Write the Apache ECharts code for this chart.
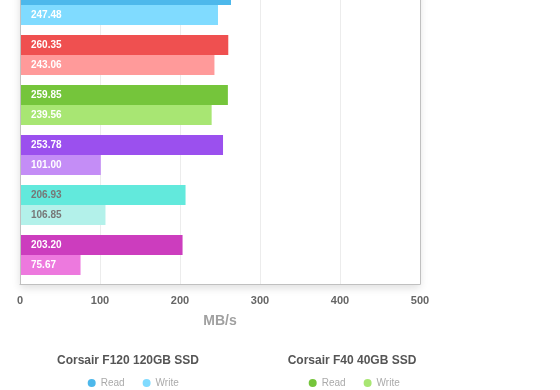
<!DOCTYPE html>
<html><head><meta charset="utf-8">
<script src="https://cdn.jsdelivr.net/npm/echarts@6/dist/echarts.min.js"></script>
<style>html,body{margin:0;padding:0;background:#fff}#c{width:560px;height:390px}</style>
</head><body><div id="c"></div>
<script>
// ---- data ----
const categories = ['Corsair F120 120GB SSD', 'Drive 2', 'Corsair F40 40GB SSD', 'Drive 4', 'Drive 5', 'Drive 6'];
const readValues = [263.75, 260.35, 259.85, 253.78, 206.93, 203.20];
const writeValues = [247.48, 243.06, 239.56, 101.00, 106.85, 75.67];
const xTicks = [0, 100, 200, 300, 400, 500];
const axisName = 'MB/s';
const legendGroups = ['Corsair F120 120GB SSD', 'Corsair F40 40GB SSD'];
const seriesNames = ['Read', 'Write'];

// ---- styles ----
const readColors = ['#4db8eb', '#ef5050', '#75c53b', '#9b50ee', '#62e9dc', '#cc3dbe'];
const writeColors = ['#80dbff', '#ff9a9a', '#a8e673', '#c48df6', '#b3f1ea', '#ed79de'];
const labelColors = ['#ffffff', '#ffffff', '#ffffff', '#ffffff', '#777777', '#ffffff'];
const FONT = '"Liberation Sans", Helvetica, Arial, sans-serif';
const legendLefts = [82.7, 303.7];
const legendCenters = [128, 352];

const chart = echarts.init(document.getElementById('c'), null, {renderer: 'canvas'});

function mkData(vals, colors) {
  return vals.map((v, i) => ({value: v, itemStyle: {color: colors[i]}, label: {color: labelColors[i]}}));
}

const option = {
  animation: false,
  grid: [
    {left: 20, right: 140, top: -20, bottom: 106, show: true, backgroundColor: '#fff', borderWidth: 0,
     outerBoundsMode: 'none', containLabel: false,
     shadowColor: 'rgba(0,0,0,0.13)', shadowBlur: 8, shadowOffsetY: 4},
    {left: 20, right: 140, top: -20, height: 300, outerBoundsMode: 'none', containLabel: false}
  ],
  xAxis: [
    {gridIndex: 0, type: 'value', min: xTicks[0], max: xTicks[xTicks.length - 1], interval: xTicks[1] - xTicks[0],
     axisLine: {show: true, lineStyle: {color: '#c0c0c0'}}, axisTick: {show: false},
     splitLine: {show: true, lineStyle: {color: '#ececec'}},
     axisLabel: {color: '#666', fontSize: 11, fontWeight: 'bold', fontFamily: FONT, margin: 11},
     name: axisName, nameLocation: 'middle', nameGap: 30,
     nameTextStyle: {color: '#a0a0a0', fontSize: 14, fontWeight: 'bold', fontFamily: FONT}},
    {gridIndex: 1, type: 'value', min: xTicks[0], max: xTicks[xTicks.length - 1], show: false}
  ],
  yAxis: [
    {gridIndex: 0, type: 'value', min: 0, max: 1, position: 'left', z: 5,
     axisLine: {show: true, lineStyle: {color: '#c0c0c0'}}, axisTick: {show: false},
     axisLabel: {show: false}, splitLine: {show: false}},
    {gridIndex: 0, type: 'value', min: 0, max: 1, position: 'right', z: 5,
     axisLine: {show: true, lineStyle: {color: '#c0c0c0'}}, axisTick: {show: false},
     axisLabel: {show: false}, splitLine: {show: false}},
    {gridIndex: 1, type: 'category', data: categories, inverse: true, show: false}
  ],
  legend: legendGroups.map((g, k) => {
    const ci = categories.indexOf(g);
    return {
      left: legendLefts[k], top: 373, orient: 'horizontal', icon: 'circle',
      itemWidth: 8, itemHeight: 8, itemGap: 18, selectedMode: false,
      textStyle: {color: '#aaaaaa', fontSize: 10, fontFamily: FONT},
      data: [
        {name: seriesNames[0], itemStyle: {color: readColors[ci]}},
        {name: seriesNames[1], itemStyle: {color: writeColors[ci]}}
      ]
    };
  }),
  graphic: legendGroups.map((g, k) => ({
    type: 'text', x: legendCenters[k], y: 361,
    style: {text: g, align: 'center', verticalAlign: 'middle', fill: '#555',
            fontSize: 12, fontWeight: 'bold', fontFamily: FONT}
  })),
  series: [
    {name: seriesNames[0], type: 'bar', xAxisIndex: 1, yAxisIndex: 2, barWidth: 20, barGap: '0%',
     data: mkData(readValues, readColors),
     label: {show: true, position: 'insideLeft', distance: 11, fontSize: 10, fontWeight: 'bold', fontFamily: FONT,
             formatter: p => Number(p.value).toFixed(2)}},
    {name: seriesNames[1], type: 'bar', xAxisIndex: 1, yAxisIndex: 2, barWidth: 20, barGap: '0%',
     data: mkData(writeValues, writeColors),
     label: {show: true, position: 'insideLeft', distance: 11, fontSize: 10, fontWeight: 'bold', fontFamily: FONT,
             formatter: p => Number(p.value).toFixed(2)}}
  ]
};
chart.setOption(option);
</script>
</body></html>
